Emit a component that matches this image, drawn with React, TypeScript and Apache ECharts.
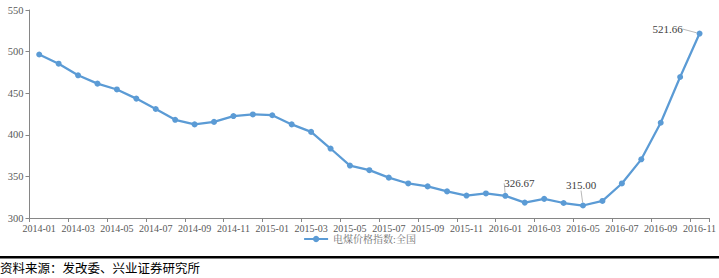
import React, { useEffect, useRef } from "react";
import * as echarts from "echarts";

const categories = [
  "2014-01", "2014-02", "2014-03", "2014-04", "2014-05", "2014-06", "2014-07", "2014-08", "2014-09", "2014-10", "2014-11", "2014-12",
  "2015-01", "2015-02", "2015-03", "2015-04", "2015-05", "2015-06", "2015-07", "2015-08", "2015-09", "2015-10", "2015-11", "2015-12",
  "2016-01", "2016-02", "2016-03", "2016-04", "2016-05", "2016-06", "2016-07", "2016-08", "2016-09", "2016-10", "2016-11",
];

const values = [
  496.5, 485.5, 471.5, 461.5, 454.5, 443.5, 431, 418, 412.5, 415.5, 422.5, 424.5,
  423.5, 412.5, 403.5, 383.5, 363, 357.5, 348.5, 341.5, 338, 332, 327, 329.5,
  326.67, 318.5, 323, 318, 315.0, 320.5, 341.5, 370.5, 414.5, 469.5, 521.66,
];

const labeledIndices = [24, 28, 34];
const labelOffsets: Record<number, [number, number]> = {
  24: [14, 1],
  28: [-2, -7],
  34: [-32, 9],
};

const seriesName = "电煤价格指数:全国";
const sourceText = "资料来源：发改委、兴业证券研究所";
const yTicks = { min: 300, max: 550, interval: 50 };

const serif = "'Liberation Serif', 'Noto Serif CJK SC', 'Noto Sans CJK SC', serif";

export default function App() {
  const ref = useRef<HTMLDivElement>(null);
  useEffect(() => {
    document.body.style.margin = "0";
    const chart = echarts.init(ref.current!, null, { renderer: "svg" });
    chart.setOption({
      animation: false,
      backgroundColor: "#ffffff",
      grid: { left: 29.5, right: 7, top: 10, bottom: 60, containLabel: false },
      legend: {
        show: true,
        bottom: 29,
        left: "center",
        itemWidth: 24,
        itemHeight: 8,
        itemGap: 10,
        textStyle: { fontFamily: serif, fontSize: 10, color: "#737373" },
        data: [{ name: seriesName }],
      },
      xAxis: {
        type: "category",
        data: categories,
        boundaryGap: true,
        axisLine: { lineStyle: { color: "#868686", width: 1 } },
        axisTick: { show: true, interval: 1, length: 4, lineStyle: { color: "#868686" } },
        axisLabel: { interval: 1, margin: 5, fontFamily: serif, fontSize: 10, color: "#595959" },
      },
      yAxis: {
        type: "value",
        min: yTicks.min,
        max: yTicks.max,
        interval: yTicks.interval,
        splitLine: { show: false },
        axisLine: { show: true, lineStyle: { color: "#868686", width: 1 } },
        axisTick: { show: true, length: 4, lineStyle: { color: "#868686" } },
        axisLabel: { margin: 6, fontFamily: serif, fontSize: 10.5, color: "#595959" },
      },
      series: [
        {
          name: seriesName,
          type: "line",
          data: values.map((v, i) =>
            labeledIndices.includes(i)
              ? {
                  value: v,
                  label: {
                    show: true,
                    position: "top",
                    formatter: (p: any) => Number(p.value).toFixed(2),
                    fontFamily: serif,
                    fontSize: 11,
                    color: "#404040",
                  },
                }
              : v
          ),
          symbol: "circle",
          symbolSize: 6,
          itemStyle: { color: "#5B9BD5" },
          lineStyle: { color: "#5B9BD5", width: 2.25 },
          labelLine: { show: true, lineStyle: { color: "#A6A6A6", width: 0.8 } },
          labelLayout: (p: any) => {
            const off = labelOffsets[p.dataIndex];
            return off ? { dx: off[0], dy: off[1] } : {};
          },
        },
      ],
      graphic: [
        {
          type: "rect",
          left: 0,
          top: 256,
          shape: { width: 719, height: 2.5 },
          style: { fill: "#000000" },
        },
        {
          type: "text",
          left: 0,
          top: 261,
          style: {
            text: sourceText,
            fontFamily: "'Noto Sans CJK SC', sans-serif",
            fontSize: 12.5,
            fill: "#000000",
          },
        },
      ],
    });
    return () => chart.dispose();
  }, []);
  return (
    <div
      ref={ref}
      style={{ position: "absolute", left: 0, top: 0, width: 719, height: 278 }}
    />
  );
}
